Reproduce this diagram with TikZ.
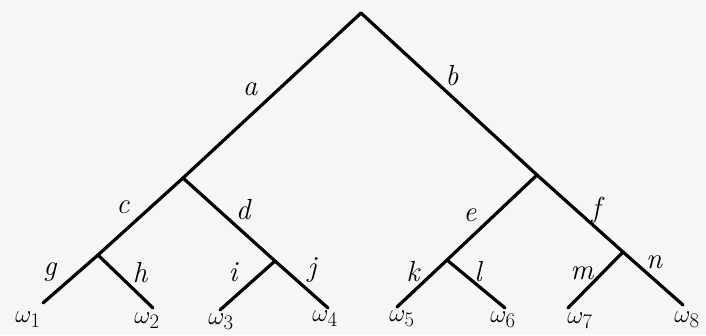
\documentclass[tikz,border=0pt]{standalone}
\begin{document}
\begin{tikzpicture}[x=1pt,y=-1pt,
  branch/.style={line width=3.2pt,line cap=round},
  lbl/.style={font=\fontsize{29}{32}\selectfont\itshape,inner sep=0pt},
  leaf/.style={font=\fontsize{31}{34}\selectfont,inner sep=0pt}]
\fill[gray!7] (0,0) rectangle (706,335);
\useasboundingbox (0,0) rectangle (706,335);
\coordinate (r) at (361,13);
\coordinate (L) at (183,178);
\coordinate (R) at (537,175);
\coordinate (LL) at (98,255);
\coordinate (LR) at (275,261);
\coordinate (RL) at (447,260);
\coordinate (RR) at (623,252);
\coordinate (w1) at (43,303);
\coordinate (w2) at (153,308);
\coordinate (w3) at (220,310);
\coordinate (w4) at (328,308);
\coordinate (w5) at (397,307);
\coordinate (w6) at (505,308);
\coordinate (w7) at (568,308);
\coordinate (w8) at (683,305);
\draw[branch] (r) -- (L);
\draw[branch] (r) -- (R);
\draw[branch] (L) -- (LL);
\draw[branch] (L) -- (LR);
\draw[branch] (R) -- (RL);
\draw[branch] (R) -- (RR);
\draw[branch] (LL) -- (w1);
\draw[branch] (LL) -- (w2);
\draw[branch] (LR) -- (w3);
\draw[branch] (LR) -- (w4);
\draw[branch] (RL) -- (w5);
\draw[branch] (RL) -- (w6);
\draw[branch] (RR) -- (w7);
\draw[branch] (RR) -- (w8);
\node[lbl] (la) at (250,89) {a};
\node[lbl] (lb) at (452,76) {b};
\node[lbl] (lc) at (123,207) {c};
\node[lbl] (ld) at (243,210) {d};
\node[lbl] (le) at (470,215) {e};
\node[lbl] (lf) at (596,210) {f};
\node[lbl] (lg) at (50,272) {g};
\node[lbl] (lh) at (140,273) {h};
\node[lbl] (li) at (233,272) {i};
\node[lbl] (lj) at (312,270) {j};
\node[lbl] (lk) at (413,272) {k};
\node[lbl] (ll) at (478,272) {l};
\node[lbl] (lm) at (582,273) {m};
\node[lbl] (ln) at (654,262) {n};
\node[leaf] (t1) at (28,320) {$\omega_1$};
\node[leaf] (t2) at (147,321) {$\omega_2$};
\node[leaf] (t3) at (221,322) {$\omega_3$};
\node[leaf] (t4) at (325,319) {$\omega_4$};
\node[leaf] (t5) at (402,319) {$\omega_5$};
\node[leaf] (t6) at (503,320) {$\omega_6$};
\node[leaf] (t7) at (580,321) {$\omega_7$};
\node[leaf] (t8) at (687,320) {$\omega_8$};
\end{tikzpicture}
\end{document}
